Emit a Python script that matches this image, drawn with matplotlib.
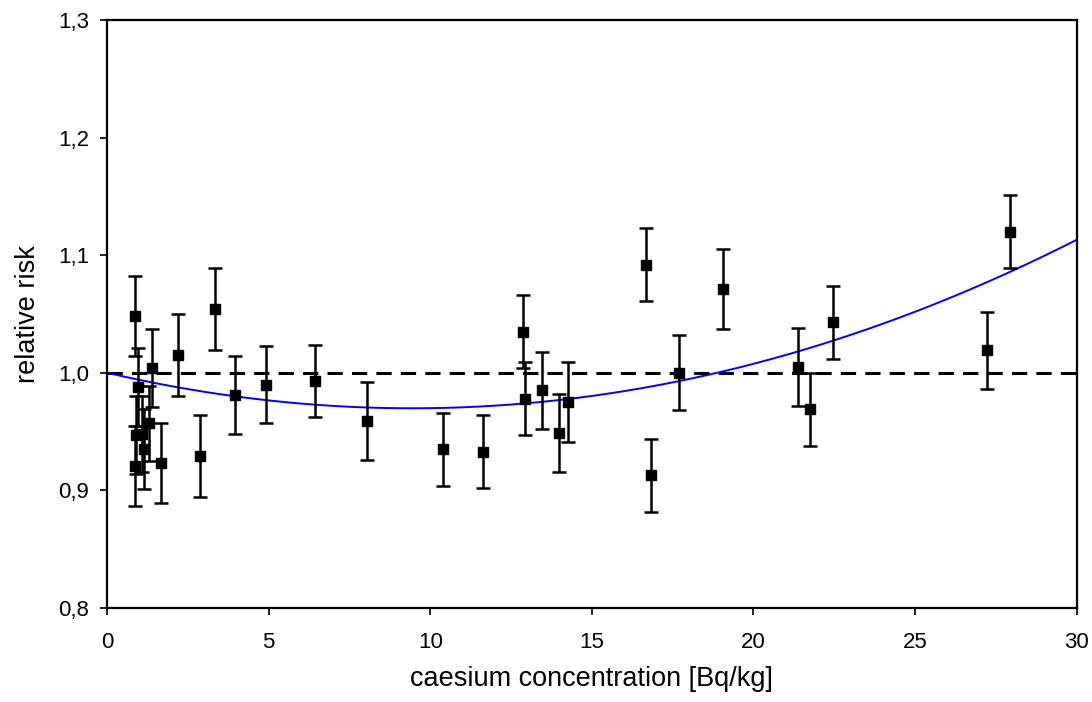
import matplotlib.pyplot as plt
import numpy as np
from matplotlib.ticker import FuncFormatter

plt.rcParams['font.family'] = ['Liberation Sans', 'DejaVu Sans']

# data
conc = [0.87, 0.88, 0.90, 0.95, 1.07, 1.15, 1.30, 1.38, 1.66, 2.21,
        2.88, 3.34, 3.96, 4.91, 6.44, 8.04, 10.40, 11.62, 12.86, 12.93,
        13.45, 13.99, 14.25, 16.67, 16.84, 17.69, 19.06, 21.38, 21.76, 22.47,
        27.24, 27.93]
risk = [1.048, 0.921, 0.947, 0.988, 0.948, 0.935, 0.957, 1.004, 0.923, 1.015,
        0.929, 1.054, 0.981, 0.990, 0.993, 0.959, 0.935, 0.933, 1.035, 0.978,
        0.985, 0.949, 0.975, 1.092, 0.913, 1.000, 1.071, 1.005, 0.969, 1.043,
        1.019, 1.120]
err = [0.034, 0.034, 0.033, 0.033, 0.032, 0.034, 0.032, 0.033, 0.034, 0.035,
       0.035, 0.035, 0.033, 0.033, 0.031, 0.033, 0.031, 0.031, 0.031, 0.031,
       0.033, 0.033, 0.034, 0.031, 0.031, 0.032, 0.034, 0.033, 0.031, 0.031,
       0.033, 0.031]

# quadratic fit (coefficients)
fit_coef = [0.000339, -0.0064, 1.0]

fig = plt.figure(figsize=(10.92, 7.02), dpi=100)
ax = fig.add_axes([0.098, 0.134, 0.888, 0.8375])

ax.axhline(1.0, color='black', linewidth=2.2, linestyle=(0, (5, 3)), zorder=1)

xs = np.linspace(0, 30, 300)
ax.plot(xs, np.polyval(fit_coef, xs), color='#0000ff', linewidth=1.4, zorder=2)

ax.errorbar(conc, risk, yerr=err, fmt='s', color='black', markersize=6.5,
            elinewidth=1.8, capsize=5, capthick=1.8, zorder=3)

ax.set_xlim(0, 30)
ax.set_ylim(0.8, 1.3)
ax.set_xticks(range(0, 31, 5))
ax.set_yticks(np.arange(0.8, 1.31, 0.1))
ax.yaxis.set_major_formatter(FuncFormatter(lambda v, p: f'{v:.1f}'.replace('.', ',')))
ax.tick_params(direction='out', length=5, width=1.2, labelsize=16)
ax.tick_params(axis='x', pad=12)
ax.tick_params(axis='y', pad=8)
for s in ax.spines.values():
    s.set_linewidth(1.6)

ax.set_xlabel('caesium concentration [Bq/kg]', fontsize=19.5, labelpad=10)
ax.set_ylabel('relative risk', fontsize=19.5, labelpad=12)

plt.savefig('out.png', dpi=100)
plt.close()
